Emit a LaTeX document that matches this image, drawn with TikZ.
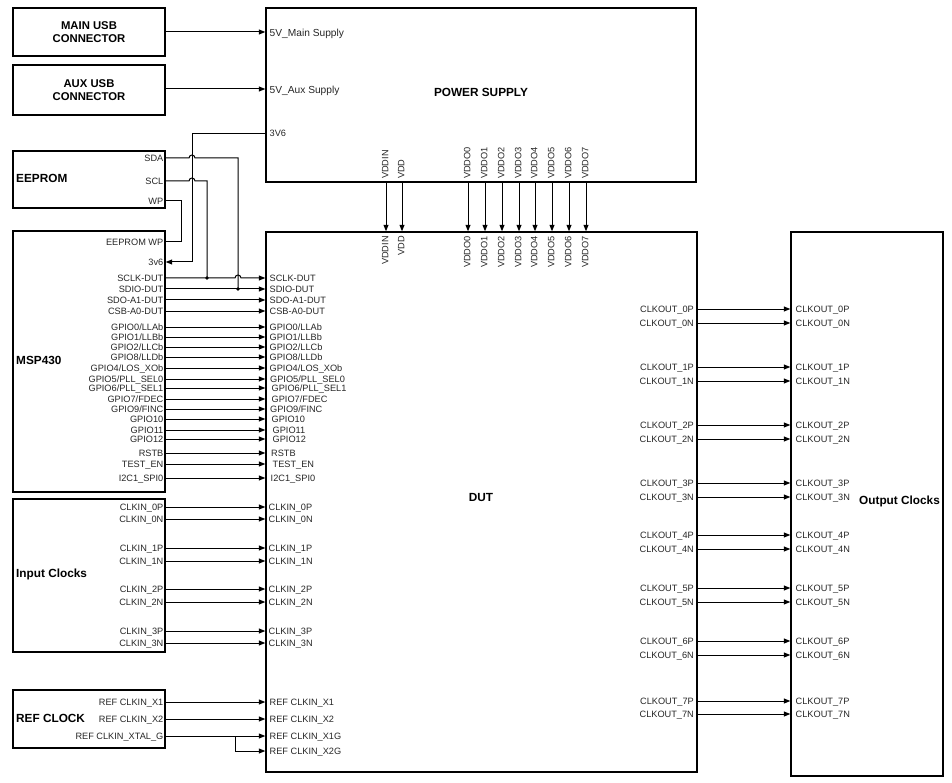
\documentclass[tikz,border=0pt]{standalone}
\usepackage{fontspec}
\setmainfont{Liberation Sans}
\usetikzlibrary{arrows.meta}
\tikzset{
  box/.style={draw, line width=1.4pt, inner sep=0pt},
  lbl/.style={font=\fontsize{9.2}{10}\selectfont, text=black!85, inner sep=1pt, text height=6.6pt, text depth=0pt},
  biglbl/.style={lbl, font=\fontsize{10.2}{11}\selectfont, text height=7.3pt},
  ttl/.style={font=\bfseries\fontsize{11.8}{14}\selectfont, inner sep=1pt, align=center},
  conn/.style={line width=1pt},
  arr/.style={line width=1pt, -{Triangle[length=6.5pt,width=5pt]}},
}
\begin{document}
\begin{tikzpicture}[x=1pt,y=-1pt]
\useasboundingbox (0,0) rectangle (952,783);
% boxes
\node[box, minimum width=152pt, minimum height=48pt] (main) at (89,32) {};
\node[box, minimum width=152pt, minimum height=50pt] (aux) at (89,90) {};
\node[box, minimum width=430pt, minimum height=174pt] (ps) at (481,95) {};
\node[box, minimum width=152pt, minimum height=57pt] (eeprom) at (89,179.5) {};
\node[box, minimum width=152pt, minimum height=261pt] (msp) at (89,361.5) {};
\node[box, minimum width=152pt, minimum height=153pt] (inclk) at (89,575.5) {};
\node[box, minimum width=152pt, minimum height=58pt] (ref) at (89,719) {};
\node[box, minimum width=431pt, minimum height=540pt] (dut) at (481.5,502) {};
\node[box, minimum width=152pt, minimum height=544pt] (outclk) at (867,504) {};
% titles
\node[ttl, font=\bfseries\fontsize{11.3}{13.5}\selectfont] (tmain) at (89,32) {MAIN USB\\CONNECTOR};
\node[ttl, font=\bfseries\fontsize{11.3}{13.5}\selectfont] (taux) at (89,90) {AUX USB\\CONNECTOR};
\node[ttl] (tps) at (481,92) {POWER SUPPLY};
\node[ttl, anchor=west] (teep) at (15,178) {EEPROM};
\node[ttl, anchor=west] (tmsp) at (15,360) {MSP430};
\node[ttl, anchor=west] (tin) at (15,574) {Input Clocks};
\node[ttl, anchor=west] (tref) at (15,718) {REF CLOCK};
\node[ttl] (tdut) at (481,497) {DUT};
\node[ttl, anchor=west] (tout) at (858,501) {Output Clocks};
% USB to power supply
\node[biglbl, anchor=west] (p5m) at (268.5,33) {5V\_Main Supply};
\node[biglbl, anchor=west] (p5a) at (268.5,90) {5V\_Aux Supply};
\node[lbl, anchor=west] (p36) at (268.5,133) {3V6};
\draw[arr] (main.east |- 0,32) -- (ps.west |- 0,32);
\draw[arr] (aux.east |- 0,89) -- (ps.west |- 0,89);
% EEPROM pins
\node[lbl, anchor=east] (esda) at (164.5,158) {SDA};
\node[lbl, anchor=east] (escl) at (164.5,181) {SCL};
\node[lbl, anchor=east] (ewp) at (164.5,201) {WP};
\node[lbl, anchor=east] (mwp) at (164.5,242) {EEPROM WP};
\node[lbl, anchor=east] (m36) at (164.5,262) {3v6};
\coordinate (j36) at (192,134);
\coordinate (jscl) at (207,278);
\coordinate (jsda) at (238,289);
\draw[arr] (ps.west |- j36) -- (j36) -- (192,262) -- (msp.east |- 0,262);
\draw[conn] (eeprom.east |- 0,201) -- (181,201) -- (181,242) -- (msp.east |- 0,242);
\draw[conn] (eeprom.east |- 0,181) -- (189,181) arc[start angle=180,end angle=0,radius=3pt] -- (jscl |- 0,181) -- (jscl);
\draw[conn] (eeprom.east |- 0,158) -- (189,158) arc[start angle=180,end angle=0,radius=3pt] -- (jsda |- 0,158) -- (jsda);
\fill (jscl) circle[radius=1.9pt];
\fill (jsda) circle[radius=1.9pt];
% MSP430 to DUT
\node[lbl, anchor=east] (lsclk) at (164.5,278) {SCLK-DUT};
\node[lbl, anchor=west] (rsclk) at (268.5,278) {SCLK-DUT};
\draw[arr] (msp.east |- 0,278) -- (235,278) arc[start angle=180,end angle=0,radius=3pt] -- (dut.west |- 0,278);
\foreach \y/\t/\d [count=\i] in {289/SDIO-DUT/0, 300/SDO-A1-DUT/0, 311/CSB-A0-DUT/0,
  327/{GPIO0/LLAb}/0, 337/{GPIO1/LLBb}/0, 347/{GPIO2/LLCb}/0, 357/{GPIO8/LLDb}/0,
  368/{GPIO4/LOS\_XOb}/0, 379/{GPIO5/PLL\_SEL0}/0.5, 388/{GPIO6/PLL\_SEL1}/2, 399/{GPIO7/FDEC}/2,
  409/{GPIO9/FINC}/0.5, 419/GPIO10/2, 430/GPIO11/3, 439/GPIO12/3, 453/RSTB/1.5,
  464/TEST\_EN/3, 478/I2C1\_SPI0/1}{
  \node[lbl, anchor=east] (ml\i) at (164.5,\y) {\t};
  \node[lbl, anchor=west] (dl\i) at (268.5+\d,\y) {\t};
  \draw[arr] (ml\i.east -| msp.east) -- (dl\i.west -| dut.west);
}
% Input clocks
\foreach \y/\t [count=\i] in {507/CLKIN\_0P, 519/CLKIN\_0N, 548/CLKIN\_1P, 561/CLKIN\_1N,
  589/CLKIN\_2P, 602/CLKIN\_2N, 631/CLKIN\_3P, 643/CLKIN\_3N}{
  \node[lbl, anchor=east] (il\i) at (164.5,\y) {\t};
  \node[lbl, anchor=west] (ir\i) at (267.5,\y) {\t};
  \draw[arr] (il\i.east -| inclk.east) -- (ir\i.west -| dut.west);
}
% REF clock
\node[lbl, anchor=east] (rl1) at (164.5,702) {REF CLKIN\_X1};
\node[lbl, anchor=east] (rl2) at (164.5,719) {REF CLKIN\_X2};
\node[lbl, anchor=east] (rl3) at (164.5,736) {REF CLKIN\_XTAL\_G};
\node[lbl, anchor=west] (rr1) at (268.5,702) {REF CLKIN\_X1};
\node[lbl, anchor=west] (rr2) at (268.5,719) {REF CLKIN\_X2};
\node[lbl, anchor=west] (rr3) at (268.5,736) {REF CLKIN\_X1G};
\node[lbl, anchor=west] (rr4) at (268.5,751) {REF CLKIN\_X2G};
\coordinate (jx) at (235,736);
\draw[arr] (ref.east |- rl1) -- (dut.west |- rr1);
\draw[arr] (ref.east |- rl2) -- (dut.west |- rr2);
\draw[arr] (ref.east |- rl3) -- (dut.west |- rr3);
\draw[arr] (jx) -- (jx |- rr4) -- (dut.west |- rr4);
% Output clocks
\foreach \y/\t [count=\i] in {309/CLKOUT\_0P, 323/CLKOUT\_0N, 367/CLKOUT\_1P, 381/CLKOUT\_1N,
  425/CLKOUT\_2P, 439/CLKOUT\_2N, 483/CLKOUT\_3P, 497/CLKOUT\_3N,
  535/CLKOUT\_4P, 549/CLKOUT\_4N, 588/CLKOUT\_5P, 602/CLKOUT\_5N,
  641/CLKOUT\_6P, 655/CLKOUT\_6N, 701/CLKOUT\_7P, 714/CLKOUT\_7N}{
  \node[lbl, anchor=east] (ol\i) at (695,\y) {\t};
  \node[lbl, anchor=west] (or\i) at (794.5,\y) {\t};
  \draw[arr] (ol\i.east -| dut.east) -- (or\i.west -| outclk.west);
}
% Supply rails
\foreach \x/\t [count=\i] in {386/VDDIN, 402/VDD, 468/VDDO0, 485/VDDO1, 502/VDDO2, 519/VDDO3,
  535/VDDO4, 552/VDDO5, 569/VDDO6, 586/VDDO7}{
  \node[lbl, rotate=90, anchor=west] (vt\i) at (\x-1,180) {\t};
  \node[lbl, rotate=90, anchor=east] (vb\i) at (\x-1,235) {\t};
  \draw[arr] (ps.south -| \x,0) -- (dut.north -| \x,0);
}
\end{tikzpicture}
\end{document}
